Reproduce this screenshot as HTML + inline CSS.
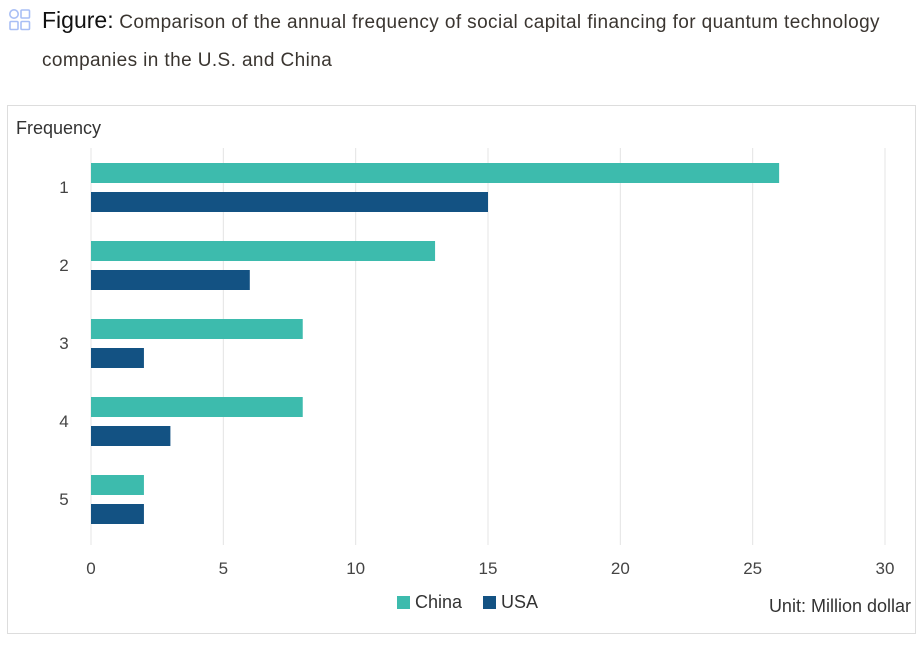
<!DOCTYPE html>
<html><head><meta charset="utf-8"><style>
body{margin:0;width:923px;height:645px;background:#fff;font-family:"Liberation Sans",sans-serif;position:relative;overflow:hidden}
.t{position:absolute;color:#333}
</style></head><body>
<svg style="position:absolute;left:8px;top:8px" width="24" height="24" viewBox="0 0 24 24">
<g fill="none" stroke="#a9bff5" stroke-width="1.6"><circle cx="6" cy="6" r="4.2"/><rect x="13" y="2" width="8.5" height="8" rx="1"/><rect x="2" y="13.5" width="8" height="8" rx="1"/><rect x="13" y="13.5" width="8.5" height="8" rx="1"/></g></svg>
<div class="t" style="left:42px;top:1px;font-size:19px;line-height:38px;width:875px;letter-spacing:0.4px;color:#3a3530"><span style="font-size:23px;color:#111;letter-spacing:0">Figure:</span> Comparison of the annual frequency of social capital financing for quantum technology companies in the U.S. and China</div>
<div style="position:absolute;left:7px;top:105px;width:909px;height:529px;border:1px solid #ddd;box-sizing:border-box"></div>
<svg id="c" style="position:absolute;left:0;top:0" width="923" height="645"></svg>
<script>
const categories=["1","2","3","4","5"];
const chinaValues=[26,13,8,8,2];
const usaValues=[15,6,2,3,2];
const xTicks=[0,5,10,15,20,25,30];
const svg=document.getElementById('c');const NS='http://www.w3.org/2000/svg';
const x0=91,x1=885,y0=149,y1=545;
const xs=v=>x0+v*(x1-x0)/30;
const band=78;
const yc=i=>y0+band*(i+0.5);
function el(t,a,txt){const e=document.createElementNS(NS,t);for(const k in a)e.setAttribute(k,a[k]);if(txt!==undefined)e.textContent=txt;svg.appendChild(e);return e;}
xTicks.forEach(v=>{
 const g=el('line',{x1:xs(v),x2:xs(v),y1:148,y2:y1,stroke:'#e4e4e4','stroke-width':1});
 
 
 const t=el('text',{x:xs(v),y:574,'text-anchor':'middle','font-size':17,fill:'#444','font-family':'Liberation Sans'},v);
 
 
});
categories.forEach((c,i)=>{
 const t=el('text',{x:64,y:yc(i)+5,'text-anchor':'middle','font-size':17,fill:'#444','font-family':'Liberation Sans'},c);
 
 
 const a=el('rect',{x:xs(0),y:yc(i)-25,width:xs(chinaValues[i])-xs(0),height:20,fill:'#3dbbad'});
 
 
 const b=el('rect',{x:xs(0),y:yc(i)+4,width:xs(usaValues[i])-xs(0),height:20,fill:'#135283'});
 
 
});
</script>
<div class="t" style="left:16px;top:118px;font-size:18px">Frequency</div>
<div style="position:absolute;left:397px;top:592px;font-size:18px;color:#333"><span style="display:inline-block;width:13px;height:13px;background:#3dbbad;vertical-align:-1px;margin-right:5px"></span>China</div>
<div style="position:absolute;left:483px;top:592px;font-size:18px;color:#333"><span style="display:inline-block;width:13px;height:13px;background:#135283;vertical-align:-1px;margin-right:5px"></span>USA</div>
<div class="t" style="right:12px;top:596px;font-size:18px">Unit: Million dollar</div>
</body></html>
